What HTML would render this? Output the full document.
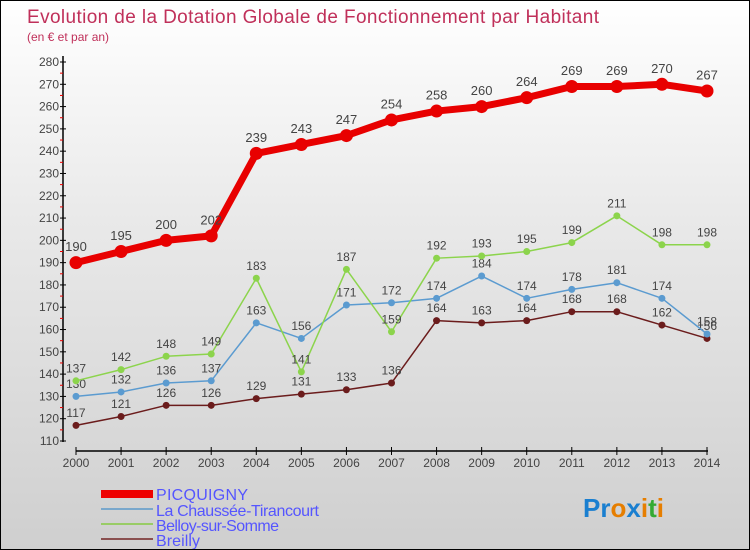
<!DOCTYPE html>
<html><head><meta charset="utf-8"><style>
body{margin:0}
#c{width:750px;height:550px;position:relative;box-sizing:border-box;border:1px solid #000;background:linear-gradient(#fff,#e9e9e9 40%,#cfcfcf);font-family:"Liberation Sans",sans-serif;overflow:hidden}
text{font-family:"Liberation Sans",sans-serif}
</style></head><body>
<div id="c">
<svg id="s" width="750" height="550">
<text x="26" y="22" font-size="19" fill="#c0305a" textLength="572">Evolution de la Dotation Globale de Fonctionnement par Habitant</text>
<text x="26" y="40" font-size="12" fill="#c0305a">(en € et par an)</text>
<g id="axes"></g><g id="series"></g>
<g>
<rect x="100" y="489" width="52" height="8" fill="#e00"/>
<text x="155" y="499" font-size="16" fill="#55f" textLength="92">PICQUIGNY</text>
<rect x="100" y="507" width="52" height="2" fill="#7aa8cc"/>
<text x="155" y="515" font-size="16" fill="#55f" textLength="163">La Chaussée-Tirancourt</text>
<rect x="100" y="522" width="52" height="2" fill="#9c6"/>
<text x="155" y="530" font-size="16" fill="#55f" textLength="123">Belloy-sur-Somme</text>
<rect x="100" y="537" width="52" height="2" fill="#8a5050"/>
<text x="155" y="545" font-size="16" fill="#55f" textLength="44">Breilly</text>
</g>
<text x="582" y="516" font-size="26" font-weight="bold"><tspan fill="#1a7fd0">Pr</tspan><tspan fill="#e67e00">o</tspan><tspan fill="#1a7fd0">x</tspan><tspan fill="#e67e00">i</tspan><tspan fill="#3a3">t</tspan><tspan fill="#e67e00">i</tspan></text>
</svg></div>
<script>
const years=[2000,2001,2002,2003,2004,2005,2006,2007,2008,2009,2010,2011,2012,2013,2014];
const picquigny=[190,195,200,202,239,243,247,254,258,260,264,269,269,270,267];
const chaussee=[130,132,136,137,163,156,171,172,174,184,174,178,181,174,158];
const belloy=[137,142,148,149,183,141,187,159,192,193,195,199,211,198,198];
const breilly=[117,121,126,126,129,131,133,136,164,163,164,168,168,162,156];
const yTicks=[110,120,130,140,150,160,170,180,190,200,210,220,230,240,250,260,270,280];
const NS="http://www.w3.org/2000/svg";
const X=i=>75+i*(706-75)/(years.length-1);
const Y=v=>440-(v-110)*(440-61)/170;
function mk(t,a,p){const e=document.createElementNS(NS,t);for(const k in a)e.setAttribute(k,a[k]);p.appendChild(e);return e;}
const ax=document.getElementById('axes');
let e=mk('line',{x1:62,y1:55,x2:62,y2:441,stroke:'#000','stroke-width':1.5},ax);


e=mk('line',{x1:75,y1:450,x2:707,y2:450,stroke:'#000','stroke-width':1.5},ax);


yTicks.forEach(v=>{const y=Y(v);
mk('line',{x1:59,y1:y,x2:65,y2:y,stroke:'#000'},ax);
if(v<280)mk('line',{x1:59,y1:Y(v+5),x2:62,y2:Y(v+5),stroke:'#e00'},ax);
const t=mk('text',{x:58,y:y+4,'font-size':12,fill:'#444','text-anchor':'end'},ax);t.textContent=v;

});
years.forEach((yr,i)=>{const x=X(i);
mk('line',{x1:x,y1:446,x2:x,y2:454,stroke:'#000'},ax);
const t=mk('text',{x:x,y:466,'font-size':12,fill:'#444','text-anchor':'middle'},ax);t.textContent=yr;

});
const sg=document.getElementById('series');
function series(data,name,color,w,r,fs){
const g=mk('g',{},sg);


const pl=mk('polyline',{points:data.map((v,i)=>X(i)+','+Y(v)).join(' '),fill:'none',stroke:color,'stroke-width':w,'stroke-linejoin':'round'},g);


data.forEach((v,i)=>{
const c=mk('circle',{cx:X(i),cy:Y(v),r:r,fill:color},g);


const t=mk('text',{x:X(i),y:Y(v)-r-5,'font-size':fs,fill:'#444','text-anchor':'middle'},g);t.textContent=v;

});}
series(breilly,'breilly','#6b1c1c',1.5,3.5,12);
series(chaussee,'chaussee','#5b9bd0',1.5,3.5,12);
series(belloy,'belloy','#8cd44c',1.5,3.5,12);
series(picquigny,'picquigny','#e80000',7,6.5,13);
</script>
</body></html>
